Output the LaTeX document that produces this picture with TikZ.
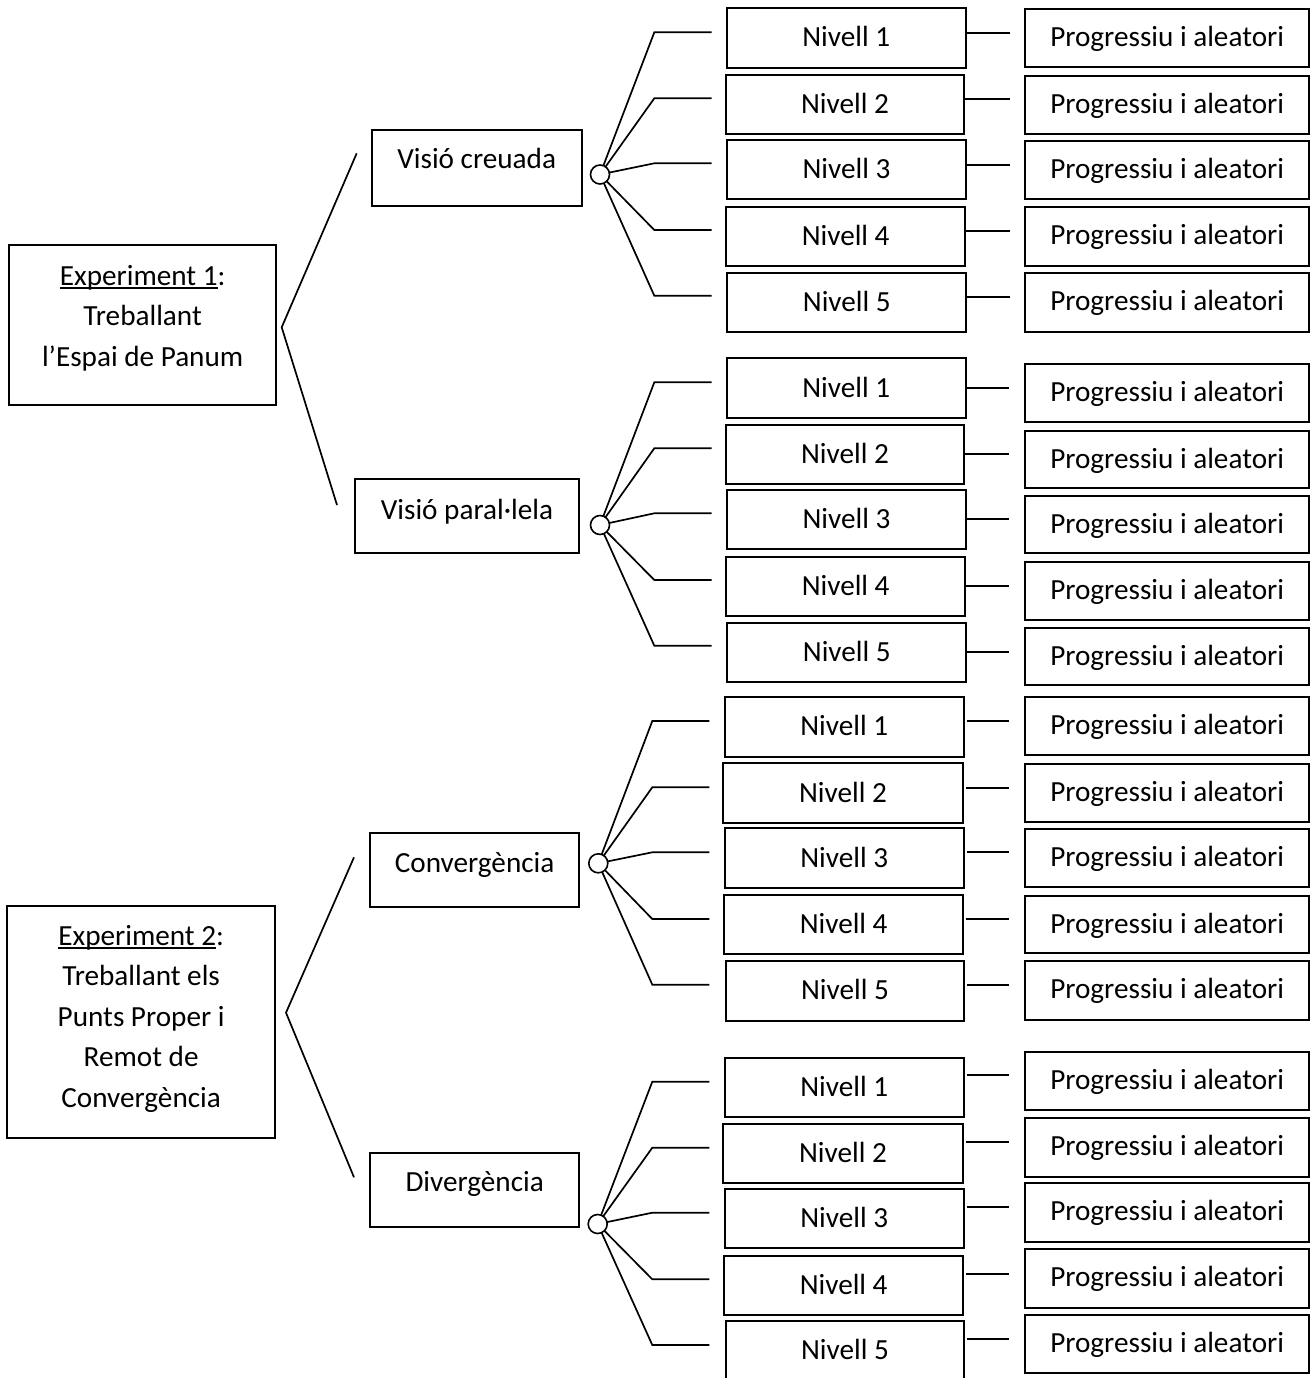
\documentclass[tikz,border=0pt]{standalone}
\usepackage{fontspec}
\setmainfont{Carlito}
\usetikzlibrary{calc}
\newsavebox\ulbox
\newcommand\ulx[1]{\sbox\ulbox{#1}\rlap{\rule[-3.9pt]{\wd\ulbox}{1.6pt}}\usebox\ulbox}
\newcommand\bx[7]{%
  \pgfmathsetmacro\bxw{#4-#2}%
  \pgfmathsetmacro\bxd{#5-#3-#6}%
  \node[box, anchor=north west, minimum width=\bxw pt, text height=#6pt, text depth=\bxd pt] (#1) at (#2,#3) {#7};%
}
\tikzset{
  box/.style={draw, line width=1.8pt, inner sep=0pt, outer sep=0pt},
  conn/.style={line width=1.7pt},
  junc/.style={circle, draw, fill=white, line width=1.6pt, minimum size=19pt, inner sep=0pt, outer sep=0pt}
}
\begin{document}
\begin{tikzpicture}[x=1pt, y=-1pt, font=\fontsize{29.2}{40.6}\selectfont]
\useasboundingbox (0,0) rectangle (1316,1378);
\clip (0,0) rectangle (1316,1378);

% ---------- Experiment boxes ----------
\node[box, anchor=north west, minimum width=266.7pt, text height=40pt, text depth=120pt] (exp1) at (9.3,245)
  {\begin{tabular}[t]{@{}c@{}}\ulx{Experiment 1}:\\ Treballant\\ l’Espai de Panum\end{tabular}};
\node[box, anchor=north west, minimum width=267.7pt, text height=39pt, text depth=192.7pt] (exp2) at (7.3,906)
  {\begin{tabular}[t]{@{}c@{}}\ulx{Experiment 2}:\\ Treballant els\\ Punts Proper i\\ Remot de\\ Convergència\end{tabular}};

% ---------- second level boxes ----------
\bx{ma}{371.7}{130}{581.7}{206}{38}{Visió creuada}
\bx{mb}{355}{479.3}{579}{553.3}{40}{Visió paral·lela}
\bx{mc}{370}{832.7}{579.3}{907.3}{40}{Convergència}
\bx{md}{370}{1152.7}{579.3}{1226.7}{39}{Divergència}

% ---------- brackets ----------
\coordinate (ta) at (356.7,153.3);
\coordinate (ba) at (337,505);
\draw[conn] (ta) -- ($(exp1.east)+(5.7,2.3)$) -- (ba);
\coordinate (tc) at (354,857.3);
\coordinate (bc) at (354,1177.3);
\draw[conn] (tc) -- ($(exp2.east)+(11,-9.15)$) -- (bc);

% ---------- junctions ----------
\node[junc] (ca) at (600,174.5) {};
\node[junc] (cb) at (600,525) {};
\node[junc] (cc) at (598.3,863.3) {};
\node[junc] (cd) at (597.7,1224) {};

% ---------- group a ----------
\foreach \yy [count=\i] in {32.3,98.3,163.3,230,295.7} {
  \coordinate (ea\i) at (654.3,\yy); \coordinate (fa\i) at (711.7,\yy);
  \draw[conn] (ca) -- (ea\i) -- (fa\i);}
\foreach \lx/\tp/\rx/\bt [count=\i] in {726.7/8.3/965.7/67.7, 725.7/75/964.3/134, 727/140/966/199, 726.3/206.7/965/265.7, 727.3/272.7/966.3/331.7}
  {\bx{na\i}{\lx}{\tp}{\rx}{\bt}{38.7}{Nivell \i}}
\foreach \tp/\bt [count=\i] in {9/66.7, 75.7/134, 140.7/199, 207.3/265.7, 273.3/331.7}
  {\bx{pa\i}{1025}{\tp}{1309.3}{\bt}{37.5}{Progressiu i aleatori}}
\foreach \yy [count=\i] in {33.3,99.3,164.7,231,296.7} {
  \coordinate (ra\i) at (1010,\yy);
  \draw[conn] (na\i.east |- ra\i) -- (ra\i);}

% ---------- group b ----------
\foreach \yy [count=\i] in {382.3,448.3,513.3,580,645.7} {
  \coordinate (eb\i) at (654.3,\yy); \coordinate (fb\i) at (711.7,\yy);
  \draw[conn] (cb) -- (eb\i) -- (fb\i);}
\foreach \lx/\tp/\rx/\bt [count=\i] in {726.7/358.3/965.7/417.7, 725.7/425/964.3/484.3, 727/490/966/549.3, 726.3/556.7/965/615.7, 727.3/622.7/966.3/681.7}
  {\bx{nb\i}{\lx}{\tp}{\rx}{\bt}{38.7}{Nivell \i}}
\foreach \tp/\bt [count=\i] in {364/421.7, 430.7/488.3, 495.7/553.3, 562.3/620, 627.7/685}
  {\bx{pb\i}{1025}{\tp}{1309.3}{\bt}{37.5}{Progressiu i aleatori}}
\foreach \yy [count=\i] in {387.7,454.3,519.3,586,651.7} {
  \coordinate (rb\i) at (1009.3,\yy);
  \draw[conn] (nb\i.east |- rb\i) -- (rb\i);}

% ---------- group c ----------
\foreach \yy [count=\i] in {721,787.3,852.3,919,984.7} {
  \coordinate (ec\i) at (652.3,\yy); \coordinate (fc\i) at (709.3,\yy);
  \draw[conn] (cc) -- (ec\i) -- (fc\i);}
\foreach \lx/\tp/\rx/\bt [count=\i] in {724.7/696.7/963.7/756.7, 723.3/763.3/962.7/822.7, 724.7/828.3/963.7/887.7, 724/895/963.3/954.3, 725.7/960.7/964.3/1020.7}
  {\bx{nc\i}{\lx}{\tp}{\rx}{\bt}{38.7}{Nivell \i}}
\foreach \tp/\bt [count=\i] in {697.3/755, 764/822.3, 829/887.3, 895.7/953.3, 960.7/1020}
  {\bx{pc\i}{1025}{\tp}{1309.3}{\bt}{37.5}{Progressiu i aleatori}}
\foreach \yy [count=\i] in {721,787.7,852.3,919.3,984.7} {
  \coordinate (rc\i) at (1009.3,\yy);
  \draw[conn] ($(nc\i.east |- rc\i)+(3,0)$) -- (rc\i);}

% ---------- group d ----------
\foreach \yy [count=\i] in {1081.7,1147.7,1212.7,1279.3,1345} {
  \coordinate (ed\i) at (652.3,\yy); \coordinate (fd\i) at (709.3,\yy);
  \draw[conn] (cd) -- (ed\i) -- (fd\i);}
\foreach \lx/\tp/\rx/\bt [count=\i] in {724.7/1057.7/963.7/1117, 723.3/1124/962.7/1183.3, 724.7/1189/963.7/1248.3, 724/1255.7/963.3/1315, 725.7/1321/964.3/1381}
  {\bx{nd\i}{\lx}{\tp}{\rx}{\bt}{38.7}{Nivell \i}}
\foreach \tp/\bt [count=\i] in {1052.3/1110, 1118.3/1176.7, 1183.3/1241.7, 1249.3/1308.3, 1315/1373.3}
  {\bx{pd\i}{1025}{\tp}{1309.3}{\bt}{37.5}{Progressiu i aleatori}}
\foreach \yy [count=\i] in {1075,1142.3,1206.7,1274.3,1339.3} {
  \coordinate (rd\i) at (1009.3,\yy);
  \draw[conn] ($(nd\i.east |- rd\i)+(3,0)$) -- (rd\i);}
\end{tikzpicture}
\end{document}
